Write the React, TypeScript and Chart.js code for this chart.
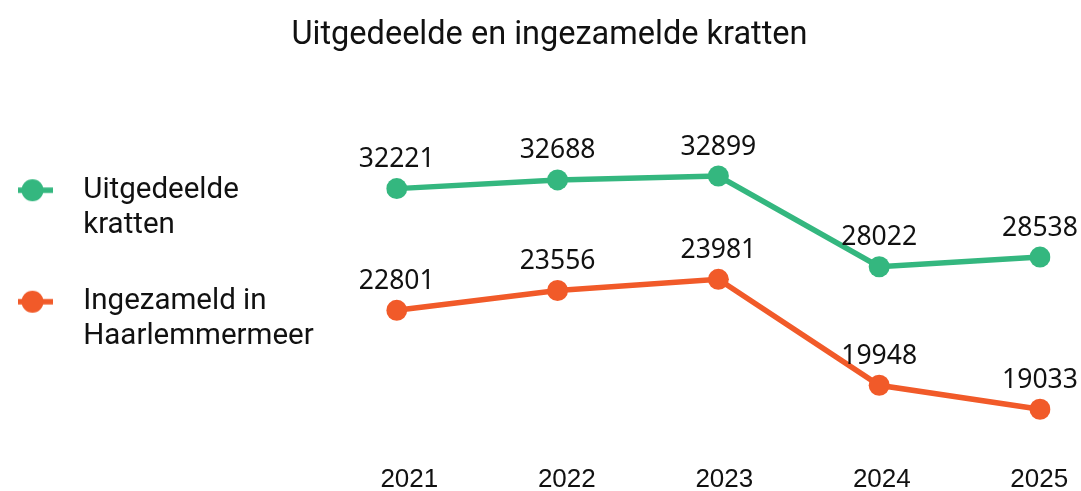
import React, { useEffect, useRef } from 'react';
import { Chart, registerables } from 'chart.js';

Chart.register(...registerables);

const years = ['2021', '2022', '2023', '2024', '2025'];
const yearTicks = [2021, 2022, 2023, 2024, 2025];
const uitgedeeld = [32221, 32688, 32899, 28022, 28538];
const ingezameld = [22801, 23556, 23981, 19948, 19033];
const uitgedeeldLegend = ['Uitgedeelde', 'kratten'];
const ingezameldLegend = ['Ingezameld in', 'Haarlemmermeer'];
const titleText = 'Uitgedeelde en ingezamelde kratten';

const GREEN = '#34b77f';
const ORANGE = '#f15a29';
const TEXT = '#111111';

function makeMarker(color: string): HTMLCanvasElement {
  const c = document.createElement('canvas');
  c.width = 106;
  c.height = 26;
  const ctx = c.getContext('2d')!;
  ctx.strokeStyle = color;
  ctx.lineWidth = 5.5;
  ctx.beginPath();
  ctx.moveTo(1, 13);
  ctx.lineTo(42, 13);
  ctx.stroke();
  ctx.fillStyle = color;
  ctx.beginPath();
  ctx.arc(21.5, 13, 11, 0, Math.PI * 2);
  ctx.fill();
  return c;
}

const valueLabels = {
  id: 'valueLabels',
  afterDatasetsDraw(chart: any) {
    const ctx = chart.ctx;
    ctx.save();
    ctx.font = '26.5px "Noto Sans"';
    ctx.fillStyle = TEXT;
    ctx.textAlign = 'center';
    ctx.textBaseline = 'alphabetic';
    chart.data.datasets.forEach((ds: any, i: number) => {
      const meta = chart.getDatasetMeta(i);
      meta.data.forEach((pt: any, j: number) => {
        ctx.fillText(String(ds.data[j]), pt.x, pt.y - 21.5);
      });
    });
    ctx.restore();
  },
};

export default function App() {
  const ref = useRef<HTMLCanvasElement | null>(null);

  useEffect(() => {
    if (!ref.current) return;
    const markerG = makeMarker(GREEN);
    const markerO = makeMarker(ORANGE);
    const chart = new Chart(ref.current, {
      type: 'line',
      data: {
        labels: years,
        datasets: [
          {
            label: uitgedeeldLegend.join(' '),
            data: uitgedeeld,
            borderColor: GREEN,
            backgroundColor: GREEN,
            pointBackgroundColor: GREEN,
            pointBorderWidth: 0,
            pointRadius: 10.5,
            borderWidth: 5.5,
            tension: 0,
            xAxisID: 'x',
            yAxisID: 'yG',
          },
          {
            label: ingezameldLegend.join(' '),
            data: ingezameld,
            borderColor: ORANGE,
            backgroundColor: ORANGE,
            pointBackgroundColor: ORANGE,
            pointBorderWidth: 0,
            pointRadius: 10.5,
            borderWidth: 5.5,
            tension: 0,
            xAxisID: 'x',
            yAxisID: 'yO',
          },
        ],
      },
      options: {
        animation: false,
        responsive: true,
        maintainAspectRatio: false,
        layout: { padding: { left: 18, right: 0, top: 0, bottom: 0 } },
        scales: {
          x: { type: 'category', display: false, offset: false },
          x2: {
            type: 'linear',
            position: 'bottom',
            min: 2020.92,
            max: 2025.0045,
            afterBuildTicks: (s: any) => {
              s.ticks = yearTicks.map((v) => ({ value: v }));
            },
            afterFit: (s: any) => {
              s.height = 35;
            },
            ticks: {
              callback: (v: any) => String(v),
              font: { family: '"Liberation Sans"', size: 26, lineHeight: 1 },
              color: TEXT,
              padding: 11,
              autoSkip: false,
              maxRotation: 0,
            },
            grid: { display: false, drawTicks: false },
            border: { display: false },
          },
          yG: {
            type: 'linear',
            position: 'left',
            min: 17844,
            max: 35158,
            afterFit: (s: any) => {
              s.width = 73;
            },
            ticks: { display: false },
            grid: { display: false, drawTicks: false },
            border: { display: false },
          },
          yO: {
            type: 'linear',
            position: 'right',
            min: 17255,
            max: 29512,
            afterFit: (s: any) => {
              s.width = 41;
            },
            ticks: { display: false },
            grid: { display: false, drawTicks: false },
            border: { display: false },
          },
        },
        plugins: {
          title: {
            display: true,
            text: titleText,
            color: TEXT,
            font: { family: 'Roboto', size: 32.5, weight: 'normal', lineHeight: 1.2 },
            padding: { top: 16, bottom: 79 },
          },
          legend: {
            display: true,
            position: 'left',
            align: 'start',
            fullSize: false,
            maxWidth: 420,
            labels: {
              usePointStyle: true,
              pointStyleWidth: 9,
              padding: 41.5,
              color: TEXT,
              font: { family: 'Roboto', size: 29.5, lineHeight: 1.186 },
              generateLabels: () => [
                {
                  text: uitgedeeldLegend as any,
                  pointStyle: markerG,
                  fillStyle: GREEN,
                  strokeStyle: GREEN,
                  lineWidth: 0,
                  hidden: false,
                  datasetIndex: 0,
                  fontColor: TEXT,
                },
                {
                  text: ingezameldLegend as any,
                  pointStyle: markerO,
                  fillStyle: ORANGE,
                  strokeStyle: ORANGE,
                  lineWidth: 0,
                  hidden: false,
                  datasetIndex: 1,
                  fontColor: TEXT,
                },
              ],
            },
          },
          tooltip: { enabled: false },
        },
      } as any,
      plugins: [valueLabels],
    });
    return () => chart.destroy();
  }, []);

  return (
    <div style={{ position: 'fixed', left: 0, top: 0, width: 1081, height: 491, background: '#fff' }}>
      <canvas ref={ref} style={{ display: 'block' }} />
    </div>
  );
}
